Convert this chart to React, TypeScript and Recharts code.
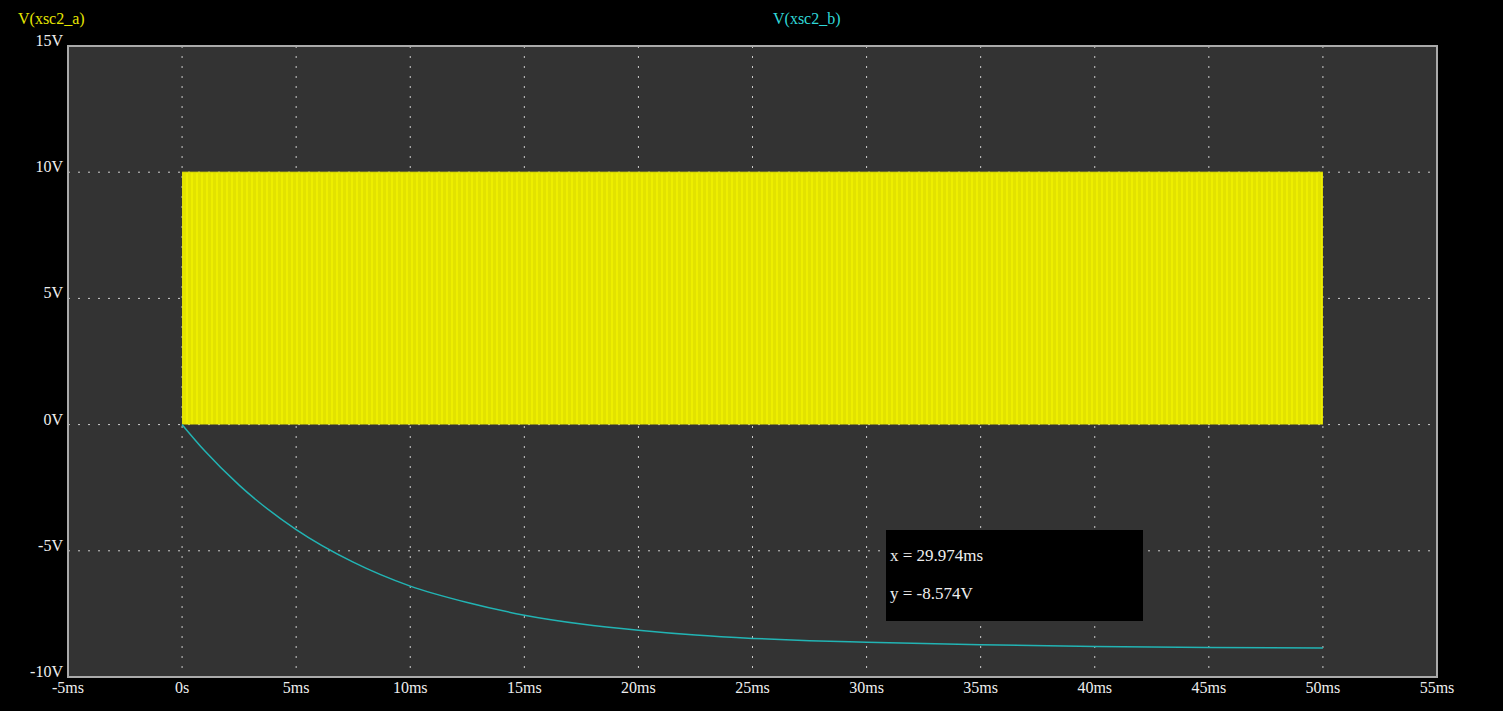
import { ComposedChart, Area, Line, XAxis, YAxis, CartesianGrid, ReferenceArea } from 'recharts';

// time axis (ms) and voltage axis (V)
const xTicks = [-5, 0, 5, 10, 15, 20, 25, 30, 35, 40, 45, 50, 55];
const yTicks = [-10, -5, 0, 5, 10, 15];

// V(xsc2_a): fast square wave 0..10V, drawn as its envelope
const squareTimes = [0, 50];
const squareHigh = [10, 10];

// V(xsc2_b)
const decayTimes = [0, 1, 2.5, 5, 7.5, 10, 12.5, 15, 17.5, 20, 22.5, 25, 27.5, 30, 35, 40, 45, 50];
const decayValues = [0, -1.05, -2.4, -4.16, -5.45, -6.4, -7.05, -7.55, -7.9, -8.15, -8.34, -8.47, -8.56, -8.62, -8.72, -8.79, -8.83, -8.85];

const cursorX = '29.974ms';
const cursorY = '-8.574V';

const squareData = squareTimes.map((t, i) => ({ t, a: squareHigh[i] }));
const decayData = decayTimes.map((t, i) => ({ t, b: decayValues[i] }));

const FONT = '"Liberation Serif", "Times New Roman", serif';

const fmtX = (v: number) => (v === 0 ? '0s' : `${v}ms`);

function YTick(props: any) {
  const { x, y, payload } = props;
  return (
    <text x={x} y={y} dy={0} textAnchor="end" fill="#eeeeee" fontSize={16} fontFamily={FONT}>
      {`${payload.value}V`}
    </text>
  );
}

export default function App() {
  return (
    <div style={{ position: 'absolute', left: 0, top: 0, width: 1503, height: 711, background: '#000', fontFamily: FONT }}>
      <div style={{ position: 'absolute', left: 18, top: 10, color: '#e6e600', fontSize: 16 }}>V(xsc2_a)</div>
      <div style={{ position: 'absolute', left: 773, top: 10, color: '#30d8d8', fontSize: 16 }}>V(xsc2_b)</div>
      <ComposedChart width={1503} height={711} margin={{ top: 46, right: 66, bottom: 0, left: 8 }}>
        <defs>
          <pattern id="sq" width="5" height="8" patternUnits="userSpaceOnUse">
            <rect width="5" height="8" fill="#e2e200" />
            <rect x="1" width="2" height="8" fill="#eeee00" />
          </pattern>
        </defs>
        <CartesianGrid fill="#333333" stroke="#cccccc" strokeDasharray="2 8" />
        <XAxis
          type="number"
          dataKey="t"
          domain={[-5, 55]}
          ticks={xTicks}
          tickFormatter={fmtX}
          allowDataOverflow
          height={34}
          tickSize={0}
          tickMargin={5}
          axisLine={false}
          tick={{ fill: '#eeeeee', fontSize: 16, fontFamily: FONT }}
        />
        <YAxis
          type="number"
          domain={[-10, 15]}
          ticks={yTicks}
          allowDataOverflow
          width={60}
          tickSize={0}
          tickMargin={5}
          axisLine={false}
          tick={<YTick />}
        />
        <Area
          data={squareData}
          dataKey="a"
          type="linear"
          baseValue={0}
          stroke="#e6e600"
          strokeWidth={1}
          fill="url(#sq)"
          fillOpacity={1}
          isAnimationActive={false}
        />
        <Line
          data={decayData}
          dataKey="b"
          type="monotone"
          stroke="#22b4b4"
          strokeWidth={1.5}
          dot={false}
          isAnimationActive={false}
        />
        <ReferenceArea x1={-5} x2={55} y1={-10} y2={15} fill="none" stroke="#aaaaaa" strokeWidth={2} ifOverflow="visible" />
      </ComposedChart>
      <div
        style={{
          position: 'absolute',
          left: 886,
          top: 530,
          width: 257,
          height: 91,
          background: '#000',
          color: '#eeeeee',
          fontSize: 17,
        }}
      >
        <div style={{ position: 'absolute', left: 4, top: 16 }}>x = {cursorX}</div>
        <div style={{ position: 'absolute', left: 4, top: 54 }}>y = {cursorY}</div>
      </div>
    </div>
  );
}
